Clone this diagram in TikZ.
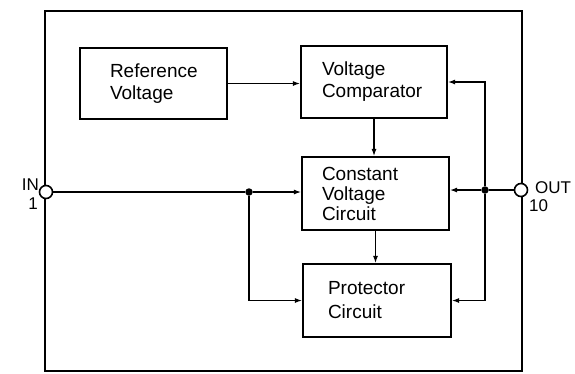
\documentclass[tikz,border=0pt]{standalone}
\usepackage{fontspec}
\setmainfont{Liberation Sans}
\usetikzlibrary{arrows.meta,positioning,calc}
\tikzset{
  blk/.style={draw,line width=2.2pt,minimum width=147pt,minimum height=72pt,align=left,text width=#1,font=\fontsize{19}{22}\selectfont,inner sep=0pt},
  blk/.default=100pt,
  frm/.style={line width=2.4pt},
  wire/.style={line width=1.1pt},
  arr/.style={wire,-{Latex[length=7pt,width=5pt]}},
  pin/.style={circle,draw,fill=white,line width=1.6pt,minimum size=13pt,inner sep=0pt},
  jn/.style={circle,fill,minimum size=7.5pt,inner sep=0pt},
  pinlbl/.style={font=\fontsize{17}{17}\selectfont,inner sep=0pt},
}
\begin{document}
\begin{tikzpicture}[x=1pt,y=-1pt]
  \useasboundingbox (0,0) rectangle (575,373);
  % package outline
  \draw[frm] (45,11) rectangle (522,371);
  % blocks
  \node[blk=87pt,minimum height=71pt] (ref) at (153.5,83.5) {Reference\\Voltage};
  \node[blk=104pt,minimum width=146pt] (vcomp) at (374,82) {Voltage\\Comparator};
  \node[blk=107pt,minimum height=73pt,font=\fontsize{19}{20}\selectfont] (cvc) at (375.5,193.5) {Constant\\Voltage\\Circuit};
  \node[blk=98pt,minimum width=148pt,minimum height=73pt,font=\fontsize{19}{24}\selectfont] (prot) at (377,300.5) {Protector\\Circuit};
  % pins and junctions
  \node[pin] (in) at (46,192) {};
  \node[pin] (out) at (521,190) {};
  \node[jn] (jin) at (249,192) {};
  \node[jn] (jout) at (485,190) {};
  \node[pinlbl,anchor=east] (inname) at (39,185) {IN};
  \node[pinlbl] (innum) at (33,204) {1};
  \node[pinlbl,anchor=west] (outname) at (535,188) {OUT};
  \node[pinlbl,anchor=west] (outnum) at (529,206) {10};
  % connections
  \draw[arr] (ref.east) -- (ref.east -| vcomp.west);
  \draw[arr] (vcomp.south) -- (vcomp.south |- cvc.north);
  \draw[arr] (cvc.south) -- (cvc.south |- prot.north);
  \draw[wire] (in) -- (jin);
  \draw[arr] (jin) -- (jin -| cvc.west);
  \draw[arr] (jin) |- (prot.west);
  \draw[wire] (out) -- (jout);
  \draw[arr] (jout) -- (jout -| cvc.east);
  \draw[arr] (jout) |- (vcomp.east);
  \draw[arr] (jout) |- (prot.east);
\end{tikzpicture}
\end{document}
